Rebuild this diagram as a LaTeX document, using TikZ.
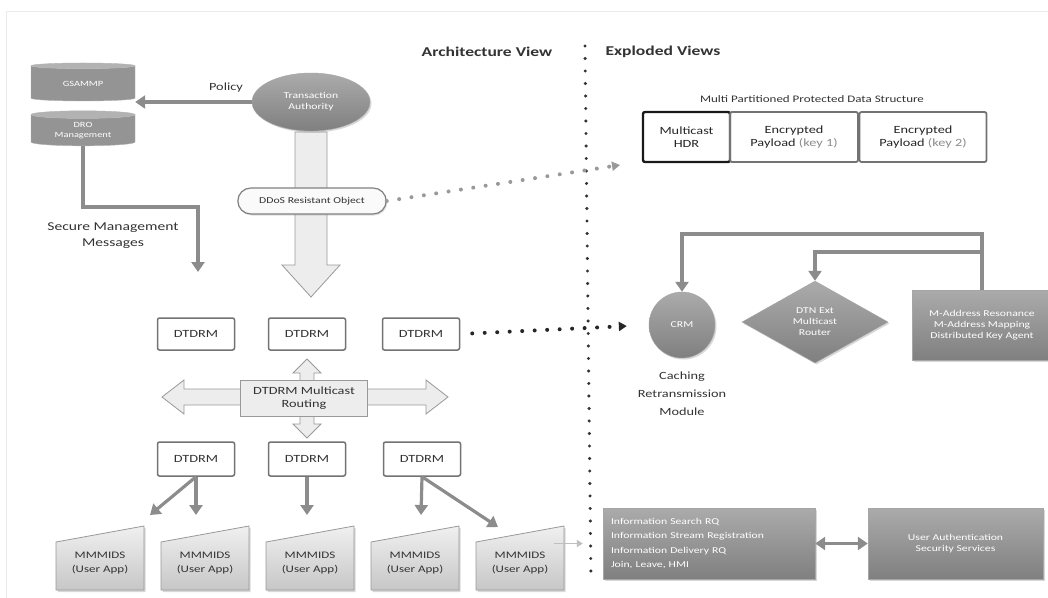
\documentclass[tikz,border=0pt]{standalone}
\usepackage{fontspec}
\setmainfont{Carlito}[FakeStretch=1.3]
\usetikzlibrary{shapes,shadows,calc,arrows.meta}

\begin{document}
\begin{tikzpicture}[x=1pt, y=-1pt]
    \tikzstyle{every node}=[align=center, text=black!80, font=\fontsize{11}{13}\selectfont]
    % the gray connectors
    \tikzstyle{conn}=[draw=black!45, line width=3.2pt,
                      -{Triangle[length=10pt,width=13pt]}]
    \tikzstyle{dots}=[line width=4pt, line cap=round, dash pattern=on 0pt off 12.5pt]
    \tikzstyle{darkfill}=[draw=black!35, top color=black!33, bottom color=black!50,
                          text=white, font=\fontsize{9}{11}\selectfont,
                          drop shadow={opacity=0.3, shadow xshift=1.5pt, shadow yshift=-1.5pt}]
    \tikzstyle{cyl}=[cylinder, shape border rotate=90, aspect=0.12,
                     cylinder uses custom fill, cylinder body fill=black!42,
                     cylinder end fill=black!30, draw=black!30, text=white,
                     font=\fontsize{8}{10}\selectfont, minimum width=104pt]
    \tikzstyle{dtdrm}=[draw=black!55, line width=1.5pt, fill=white, rounded corners=2pt,
                       minimum width=77pt, minimum height=32pt]
    \tikzstyle{block}=[draw=black!40, line width=0.8pt, fill=black!7]
    \tikzstyle{part}=[draw=black!55, line width=1.8pt, rounded corners=2pt,
                      minimum height=50pt, text=black!85]
    \tikzstyle{userapp}=[draw=black!40, line width=0.8pt, top color=black!6, bottom color=black!22,
                         drop shadow={opacity=0.3, shadow xshift=1.5pt, shadow yshift=-2pt}]

    \useasboundingbox (0,0) rectangle (1048,597);
    \fill[white] (0,0) rectangle (1048,597);
    \draw[black!8, line width=1pt] (6,600) -- (6,11) -- (1050,11);

    % headings and the divider
    \node (archview) at (487,52) {\fontsize{13.5}{15}\selectfont\bfseries Architecture View};
    \node (explview) at (663,52) {\fontsize{13.5}{15}\selectfont\bfseries Exploded Views};
    \draw[dots, black!80, line width=3.4pt] (585,46) -- (591,582);

    % left hand side
    \node[cyl, minimum height=38pt] (gsammp) at (83,84) {GSAMMP};
    \node[cyl, minimum height=35pt] (drm) at (83,131) {DRO\\Management};

    \draw[block] (295,132) -- (327,132) -- (327,265) -- (340,265) -- (311,297)
                 -- (282,265) -- (295,265) -- cycle;
    \node[ellipse, darkfill, minimum width=118pt, minimum height=58pt] (ta) at (311,102)
        {Transaction\\Authority};
    \node[rounded rectangle, draw=black!50, line width=1.2pt, fill=black!2,
          minimum width=155pt, minimum height=26pt, font=\fontsize{9}{11}\selectfont,
          drop shadow={opacity=0.25, shadow xshift=1pt, shadow yshift=-1.5pt}]
        (ddos) at (312,201) {DDoS Resistant Object};

    \draw[conn] (ta.west) -- (ta.west -| gsammp.east);
    \node (policy) at (226,88) {Policy};
    \coordinate (smm) at (198,272);
    \draw[conn] (drm.south) |- (198,207) -- (smm);
    \node[font=\fontsize{12}{16}\selectfont] (smmtext) at (113,236) {Secure Management\\Messages};

    \node[dtdrm] (d11) at (196,334) {DTDRM};
    \node[dtdrm] (d12) at (307,334) {DTDRM};
    \node[dtdrm] (d13) at (421,334) {DTDRM};

    % four way routing arrow
    \draw[block] (162,397) -- (184,380) -- (184,389) -- (300,389) -- (300,373) -- (293,373)
        -- (307,359) -- (321,373) -- (314,373) -- (314,389) -- (426,389) -- (426,380)
        -- (448,397) -- (426,414) -- (426,405) -- (314,405) -- (314,424) -- (321,424)
        -- (307,438) -- (293,424) -- (300,424) -- (300,405) -- (184,405) -- (184,414) -- cycle;
    \node[block, minimum width=127pt, minimum height=36pt] (route) at (304,398)
        {DTDRM Multicast\\Routing};

    \node[dtdrm, minimum height=34pt] (d21) at (196,459) {DTDRM};
    \node[dtdrm, minimum height=34pt] (d22) at (307,459) {DTDRM};
    \node[dtdrm, minimum height=34pt] (d23) at (422,459) {DTDRM};

    \foreach \x [count=\i] in {56,161,266,371,476} {
        \draw[userapp] (\x,542) -- (\x+88,526) -- (\x+88,590) -- (\x,590) -- cycle;
        \node[font=\fontsize{10}{14}\selectfont] (m\i) at (\x+44,563) {MMMIDS\\(User App)};
    }
    \coordinate (t1) at (150,515);
    \coordinate (t2) at (196,515);
    \coordinate (t3) at (307,515);
    \coordinate (t4) at (421,515);
    \coordinate (t5) at (498,527);
    \draw[conn] (d21.south) -- (t1);
    \draw[conn] (d21.south) -- (t2);
    \draw[conn] (d22.south) -- (t3);
    \draw[conn] (d23.south) -- (t4);
    \draw[conn] (d23.south) -- (t5);

    % exploded views
    \node[font=\fontsize{10}{12}\selectfont] (dstitle) at (812,99)
        {Multi Partitioned Protected Data Structure};
    \node[part, draw=black!90, line width=2.4pt, minimum width=87pt] (hdr) at (686.5,137)
        {Multicast\\HDR};
    \node[part, minimum width=128pt] (enc1) at (794,137)
        {Encrypted\\Payload {\color{black!45}(key 1)}};
    \node[part, minimum width=127pt] (enc2) at (923,137)
        {Encrypted\\Payload {\color{black!45}(key 2)}};
    \coordinate (dsin) at (620,165);
    \draw[dots, black!40, -{Triangle[length=8pt,width=9pt]}] (ddos.east) -- (dsin);

    \node[circle, darkfill, minimum size=66pt] (crm) at (682,325) {CRM};
    \node[font=\fontsize{11}{18}\selectfont] (crmtext) at (682,394)
        {Caching\\Retransmission\\Module};
    \node[diamond, darkfill, aspect=1.8, inner sep=0pt, minimum width=146pt,
          minimum height=82pt] (dtn) at (815,322) {DTN Ext\\Multicast\\Router};
    \node[rectangle, darkfill, minimum width=140pt, minimum height=70pt] (ma) at (982,325)
        {M-Address Resonance\\M-Address Mapping\\Distributed Key Agent};
    \coordinate (split) at (982,252);
    \draw[conn] (ma.north) -- (982,234) -| (crm.north);
    \draw[conn] (split) -| (dtn.north);
    \draw[dots, black!85, -{Triangle[length=8pt,width=9pt]}, shorten <=12pt, shorten >=22pt]
        (d13.east) -- (crm.west);

    \node[rectangle, darkfill, minimum width=212pt, minimum height=71pt, text width=196pt,
          align=left, font=\fontsize{9}{14.5}\selectfont] (info) at (709,543.5)
        {Information Search RQ\\Information Stream Registration\\Information Delivery RQ\\Join, Leave, HMI};
    \node[rectangle, darkfill, minimum width=175pt, minimum height=71pt] (auth) at (955.5,543.5)
        {User Authentication\\Security Services};
    \draw[conn, {Triangle[length=10pt,width=13pt]}-{Triangle[length=10pt,width=13pt]}]
        (info) -- (auth);
    \draw[black!25, line width=1.5pt, -{Triangle[length=6pt,width=7pt]}, shorten <=2pt, shorten >=20pt]
        (m5.east |- info.west) -- (info.west);
\end{tikzpicture}
\end{document}
